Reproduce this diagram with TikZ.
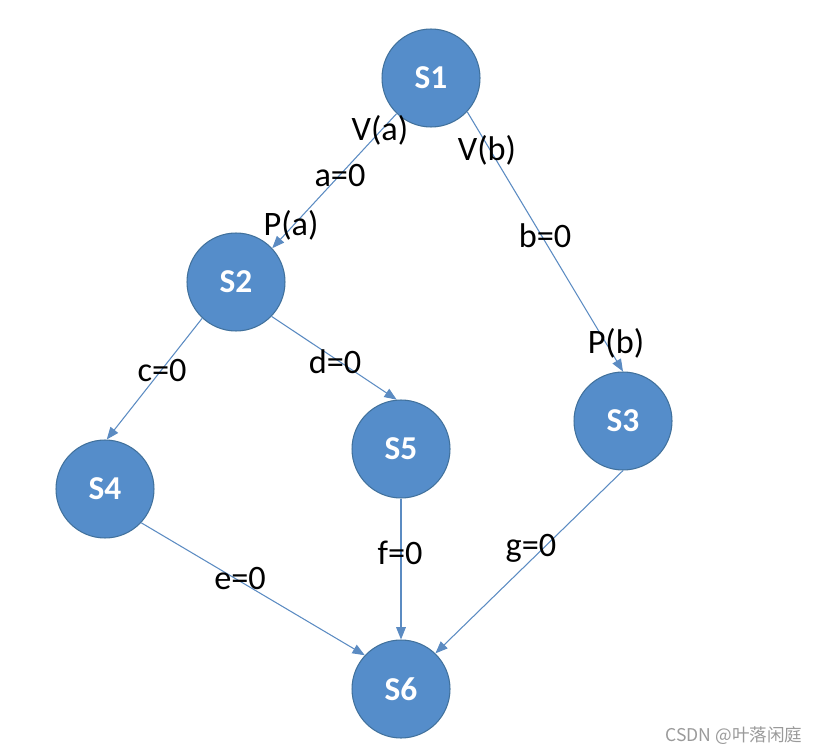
\documentclass[tikz,border=0pt]{standalone}
\usepackage{fontspec}
\setmainfont{Carlito}
\newfontfamily\cjkfont{Noto Sans CJK SC}
\usetikzlibrary{arrows.meta}
\definecolor{stateFill}{HTML}{558DCA}
\definecolor{stateLine}{HTML}{41719C}
\definecolor{edgeBlue}{HTML}{5B8BC2}
\definecolor{markGray}{HTML}{9A9A9A}

\begin{document}
\begin{tikzpicture}[x=0.02cm, y=-0.02cm,
    state/.style={circle, fill=stateFill, draw=stateLine, line width=0.6pt,
      minimum size=1.96cm, inner sep=0pt, text=white, font=\fontsize{19}{22}\selectfont\bfseries},
    lbl/.style={inner sep=0pt, text=black, font=\fontsize{19.5}{23}\selectfont},
    flow/.style={-{Triangle[length=7pt, width=5.5pt]}, edgeBlue, line width=0.6pt}]
  \useasboundingbox (0,0) rectangle (817,753);
  % estados
  \node[state] (s1) at (431,78) {S1};
  \node[state] (s2) at (236,282) {S2};
  \node[state] (s3) at (623,421) {S3};
  \node[state] (s4) at (105,489) {S4};
  \node[state] (s5) at (401,449) {S5};
  \node[state] (s6) at (401,689) {S6};
  % aristas
  \draw[flow] (s1.226) -- (s2.43);
  \draw[flow] (s1.-43) -- (s3.90);
  \draw[flow] (s2.227) -- (s4.88);
  \draw[flow] (s2.-44) -- (s5.95);
  \draw[flow] (s4.-43) -- (s6.137);
  \draw[flow] (s5.south) -- (s6.north);
  \draw[flow] (s3.south) -- (s6.46);
  % etiquetas
  \node[lbl] (va) at (380,130) {V(a)};
  \node[lbl] (a0) at (340,176) {a=0};
  \node[lbl] (pa) at (291,225) {P(a)};
  \node[lbl] (vb) at (487,150) {V(b)};
  \node[lbl] (b0) at (545,236) {b=0};
  \node[lbl] (pb) at (616,343) {P(b)};
  \node[lbl] (c0) at (162,370) {c=0};
  \node[lbl] (d0) at (335,362) {d=0};
  \node[lbl] (e0) at (240,578) {e=0};
  \node[lbl] (f0) at (400,553) {f=0};
  \node[lbl] (g0) at (531,548) {g=0};
  \node[inner sep=0pt, text=markGray, font=\cjkfont\fontsize{10}{12}\selectfont] (mark) at (734,736) {CSDN @叶落闲庭};
\end{tikzpicture}
\end{document}
